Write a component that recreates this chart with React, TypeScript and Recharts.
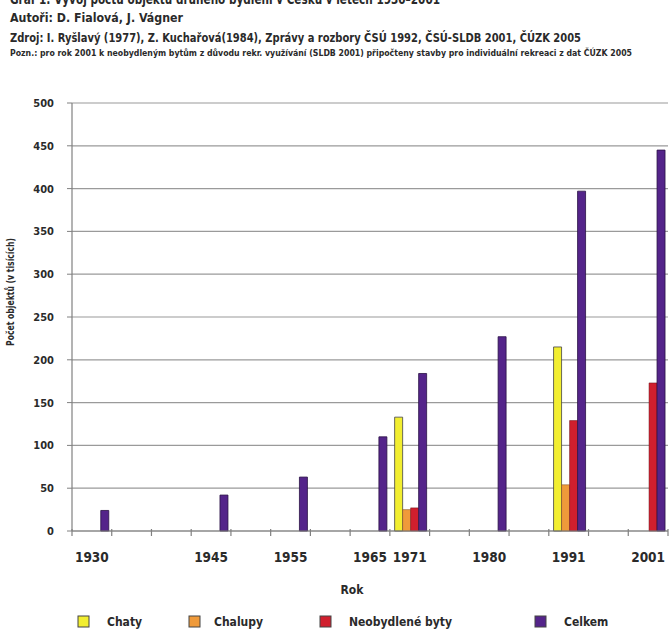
import React from 'react';
import { BarChart, Bar, XAxis, YAxis, CartesianGrid } from 'recharts';

// 15 evenly spaced slots on the category axis; only some carry a year label
const slots = ['1930', 's1', 's2', '1945', 's4', '1955', 's6', '1965', '1971', 's9', '1980', 's11', '1991', 's13', '2001'];
const yearLabels: Record<string, string> = {
  '1930': '1930', '1945': '1945', '1955': '1955', '1965': '1965',
  '1971': '1971', '1980': '1980', '1991': '1991', '2001': '2001',
};
const chaty = [null, null, null, null, null, null, null, null, 133, null, null, null, 215, null, null];
const chalupy = [null, null, null, null, null, null, null, null, 25, null, null, null, 54, null, null];
const neobydlene = [null, null, null, null, null, null, null, null, 27, null, null, null, 129, null, 173];
const celkem = [24, null, null, 42, null, 63, null, 110, 184, null, 227, null, 397, null, 445];
const yTicks = [0, 50, 100, 150, 200, 250, 300, 350, 400, 450, 500];

const seriesNames = ['Chaty', 'Chalupy', 'Neobydlené byty', 'Celkem'];
const colors = ['#f2ee30', '#ef9a3a', '#d01f2e', '#54248a'];

const data = slots.map((s, i) => ({
  slot: s,
  chaty: chaty[i],
  chalupy: chalupy[i],
  neobydlene: neobydlene[i],
  celkem: celkem[i],
}));

const FONT = '"Liberation Sans Narrow", "DejaVu Sans Condensed", "Roboto", sans-serif';
const TXT = '#2a2a2a';
const AXIS = '#808080';

// Category tick: year label at the band centre, tick marks at the band boundaries
const CatTick = (props: any) => {
  const { x, y, payload, index, width, visibleTicksCount } = props;
  const count = Number(visibleTicksCount) || slots.length;
  const w = Number(width) || 0;
  const half = w > 0 ? w / count / 2 : 0;
  const axisY = Number(y) - 21;
  const label = yearLabels[payload.value] || '';
  const last = index === count - 1;
  return (
    <g>
      <path d={`M${x - half},${axisY - 2}L${x - half},${axisY + 5}`} stroke={AXIS} strokeWidth={1.2} fill="none" />
      {last ? <path d={`M${x + half},${axisY - 2}L${x + half},${axisY + 5}`} stroke={AXIS} strokeWidth={1.2} fill="none" /> : null}
      {label ? (
        <text x={x} y={y} dy="0.71em" textAnchor="middle" fill={TXT} fontSize={13.5} fontWeight={700} fontFamily={FONT}>
          {label}
        </text>
      ) : null}
    </g>
  );
};

export default function App() {
  return (
    <div style={{ position: 'absolute', left: 0, top: 0, width: 672, height: 638, background: '#fff', overflow: 'hidden', fontFamily: FONT }}>
      <BarChart
        width={672}
        height={638}
        data={data}
        margin={{ top: 103, right: 4, bottom: 77, left: 12 }}
        barCategoryGap="12%"
        barGap={0}
      >
        <CartesianGrid vertical={false} stroke="#9a9a9a" strokeWidth={1.2} />
        <XAxis
          dataKey="slot"
          height={30}
          tickSize={0}
          tickMargin={21}
          tickLine={false}
          interval={0}
          axisLine={{ stroke: AXIS, strokeWidth: 1.2 }}
          tick={CatTick}
        />
        <YAxis
          width={60}
          domain={[0, 500]}
          ticks={yTicks}
          interval={0}
          tickSize={5}
          tickMargin={13}
          axisLine={{ stroke: AXIS, strokeWidth: 1.2 }}
          tickLine={{ stroke: AXIS }}
          tick={{ fill: TXT, fontSize: 11, fontWeight: 700, fontFamily: FONT }}
        />
        <Bar dataKey="chaty" name={seriesNames[0]} fill={colors[0]} stroke="#444" strokeWidth={0.8} isAnimationActive={false} />
        <Bar dataKey="chalupy" name={seriesNames[1]} fill={colors[1]} stroke="#7a4a20" strokeWidth={0.5} isAnimationActive={false} />
        <Bar dataKey="neobydlene" name={seriesNames[2]} fill={colors[2]} stroke="#6a1018" strokeWidth={0.5} isAnimationActive={false} />
        <Bar dataKey="celkem" name={seriesNames[3]} fill={colors[3]} stroke="#2a1245" strokeWidth={0.8} isAnimationActive={false} />
      </BarChart>

      <svg width={672} height={638} style={{ position: 'absolute', left: 0, top: 0, pointerEvents: 'none' }}>
        <g fontFamily={FONT} fill={TXT}>
          <text x={10} y={4} fontSize={14} fontWeight={700} textLength={430} lengthAdjust="spacingAndGlyphs">
            Graf 1: Vývoj počtu objektů druhého bydlení v Česku v letech 1930–2001
          </text>
          <text x={10} y={22} fontSize={13} fontWeight={700} textLength={173} lengthAdjust="spacingAndGlyphs">
            Autoři: D. Fialová, J. Vágner
          </text>
          <text x={10} y={42} fontSize={12} fontWeight={700} textLength={571} lengthAdjust="spacingAndGlyphs">
            Zdroj: I. Ryšlavý (1977), Z. Kuchařová(1984), Zprávy a rozbory ČSÚ 1992, ČSÚ-SLDB 2001, ČÚZK 2005
          </text>
          <text x={10} y={56} fontSize={8} fontWeight={700} textLength={622} lengthAdjust="spacingAndGlyphs">
            Pozn.: pro rok 2001 k neobydleným bytům z důvodu rekr. využívání (SLDB 2001) připočteny stavby pro individuální rekreaci z dat ČÚZK 2005
          </text>
          <text x={10} y={292} fontSize={10.5} fontWeight={700} textAnchor="middle" dominantBaseline="central" transform="rotate(-90 10 292)" textLength={108} lengthAdjust="spacingAndGlyphs">
            Počet objektů (v tisících)
          </text>
          <text x={352} y={590} fontSize={12} fontWeight={700} textAnchor="middle" dominantBaseline="central">
            Rok
          </text>
          {[78, 189, 320, 535].map((x, i) => (
            <rect key={'sq' + i} x={x} y={616} width={11} height={11} fill={colors[i]} stroke="#444" strokeWidth={1} />
          ))}
          {[107, 214, 349, 564].map((x, i) => (
            <text key={'lt' + i} x={x} y={622} fontSize={12} fontWeight={700} dominantBaseline="central">
              {seriesNames[i]}
            </text>
          ))}
        </g>
      </svg>
    </div>
  );
}
